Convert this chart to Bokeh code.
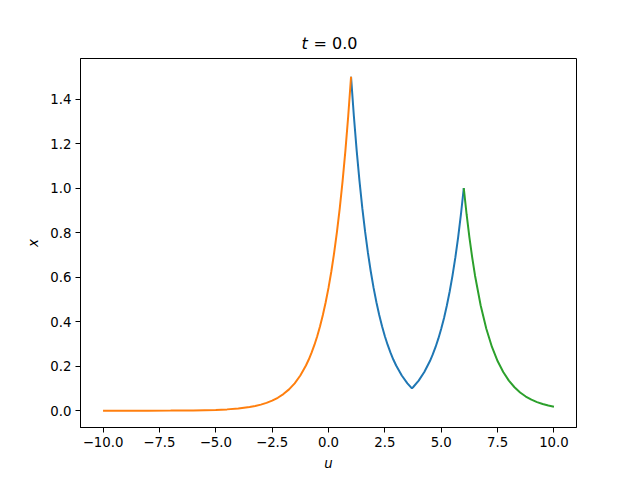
from bokeh.plotting import figure
from bokeh.models import Range1d, FixedTicker, Label
from bokeh.embed import file_html
from bokeh.resources import INLINE

# Data
orange_x = [-10, -8, -7, -6, -5, -4.5, -4, -3.5, -3.25, -3, -2.75, -2.5, -2.25, -2, -1.75,
            -1.5, -1.25, -1, -0.875, -0.75, -0.625, -0.5, -0.375, -0.25, -0.125, 0, 0.125,
            0.25, 0.375, 0.5, 0.625, 0.75, 0.875, 1]
orange_y = [0.0000, 0.0002, 0.0005, 0.0014, 0.0037, 0.0061, 0.0101, 0.0167, 0.0214, 0.0275,
            0.0353, 0.0453, 0.0582, 0.0747, 0.0959, 0.1231, 0.1581, 0.2030, 0.2300, 0.2607,
            0.2954, 0.3347, 0.3793, 0.4298, 0.4870, 0.5518, 0.6253, 0.7086, 0.8029, 0.9098,
            1.0309, 1.1682, 1.3237, 1.5000]

blue_x = [1, 1.125, 1.25, 1.375, 1.5, 1.625, 1.75, 1.875, 2, 2.125, 2.25, 2.375, 2.5,
          2.625, 2.75, 2.875, 3, 3.25, 3.5, 3.7, 3.75, 4, 4.25, 4.5, 4.625, 4.75,
          4.875, 5, 5.125, 5.25, 5.375, 5.5, 5.625, 5.75, 5.875, 6]
blue_y = [1.5000, 1.3237, 1.1682, 1.0309, 0.9098, 0.8029, 0.7086, 0.6253, 0.5518,
          0.4870, 0.4298, 0.3793, 0.3347, 0.2954, 0.2607, 0.2300, 0.2030, 0.1581,
          0.1231, 0.1004, 0.1054, 0.1353, 0.1738, 0.2231, 0.2528, 0.2865, 0.3247,
          0.3679, 0.4169, 0.4724, 0.5353, 0.6065, 0.6873, 0.7788, 0.8825, 1.0000]

green_x = [6, 6.125, 6.25, 6.375, 6.5, 6.75, 7, 7.25, 7.5, 7.75, 8, 8.25, 8.5, 8.75, 9,
           9.25, 9.5, 9.75, 10]
green_y = [1.0000, 0.8825, 0.7788, 0.6873, 0.6065, 0.4724, 0.3679, 0.2865, 0.2231,
           0.1738, 0.1353, 0.1054, 0.0821, 0.0639, 0.0498, 0.0388, 0.0302, 0.0235, 0.0183]

x_ticks = [-10, -7.5, -5, -2.5, 0, 2.5, 5, 7.5, 10]
x_tick_labels = ["\u221210.0", "\u22127.5", "\u22125.0", "\u22122.5", "0.0", "2.5", "5.0", "7.5", "10.0"]
y_ticks = [0, 0.2, 0.4, 0.6, 0.8, 1.0, 1.2, 1.4]
y_tick_labels = ["0.0", "0.2", "0.4", "0.6", "0.8", "1.0", "1.2", "1.4"]

FONT = "DejaVu Sans"

p = figure(width=640, height=480, output_backend="svg", toolbar_location=None,
           x_range=Range1d(-11, 11), y_range=Range1d(-0.0753, 1.582),
           min_border_left=80, min_border_right=64, min_border_top=58, min_border_bottom=53)
p.title.visible = False
p.grid.visible = False
p.background_fill_color = "white"
p.border_fill_color = "white"
p.outline_line_color = "black"
p.outline_line_width = 1
p.outline_line_alpha = 1.0

p.line(blue_x, blue_y, line_color="#1f77b4", line_width=2)
p.line(orange_x, orange_y, line_color="#ff7f0e", line_width=2)
p.line(green_x, green_y, line_color="#2ca02c", line_width=2)

for ax, ticks, labels in ((p.xaxis[0], x_ticks, x_tick_labels), (p.yaxis[0], y_ticks, y_tick_labels)):
    ax.ticker = FixedTicker(ticks=ticks, minor_ticks=[])
    ax.major_label_overrides = {t: l for t, l in zip(ticks, labels)}
    ax.major_tick_out = 5
    ax.major_tick_in = 0
    ax.minor_tick_out = 0
    ax.minor_tick_in = 0
    ax.major_tick_line_color = "black"
    ax.axis_line_color = "black"
    ax.major_label_text_font = FONT
    ax.major_label_text_font_size = "13.3px"
    ax.major_label_text_color = "black"
    ax.major_label_standoff = 4
    ax.axis_label_text_font = FONT
    ax.axis_label_text_font_size = "13.3px"
    ax.axis_label_text_font_style = "italic"
    ax.axis_label_text_color = "black"
    ax.axis_label_standoff = 6

p.xaxis.axis_label = "u"
p.yaxis.axis_label = "x"

p.add_layout(Label(x=221, y=15.5, x_units="screen", y_units="screen", text="t",
                   text_font=FONT, text_font_size="16px", text_font_style="italic",
                   text_color="black", text_baseline="alphabetic"), "above")
p.add_layout(Label(x=233, y=-3.5, x_units="screen", y_units="screen", text="= 0.0",
                   text_font=FONT, text_font_size="16px",
                   text_color="black", text_baseline="alphabetic"), "above")

open("out.html", "w").write(file_html(p, INLINE))
